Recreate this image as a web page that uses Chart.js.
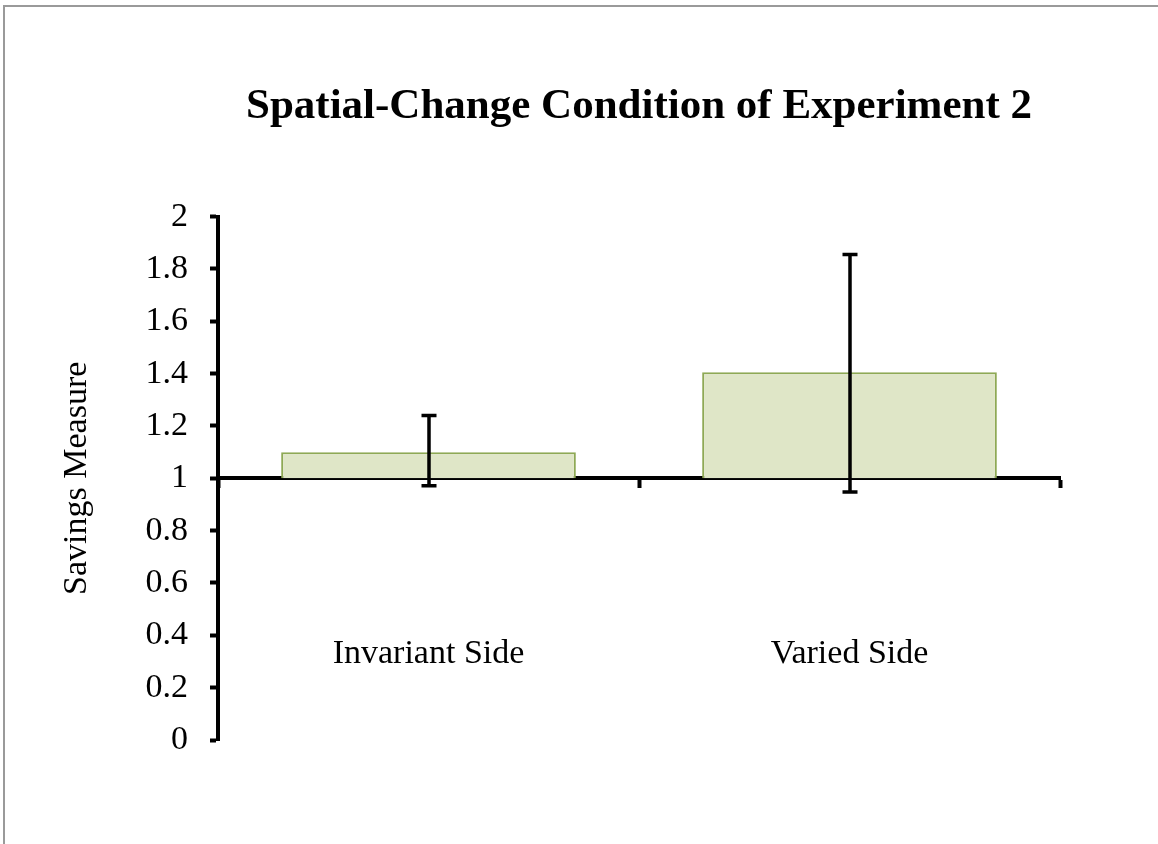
<!DOCTYPE html>
<html>
<head>
<meta charset="utf-8">
<script src="https://cdn.jsdelivr.net/npm/chart.js@4/dist/chart.umd.min.js"></script>
<style>
    html, body { margin: 0; padding: 0; background: #fff; }
    #wrap { position: relative; width: 1158px; height: 844px; overflow: hidden; }
    #frame {
        position: absolute; left: 3px; top: 5px; right: -10px; bottom: -10px;
        border-top: 2px solid #9a9a9a; border-left: 2px solid #9a9a9a;
    }
    #chart { position: absolute; left: 0; top: 0; }
</style>
</head>
<body>
<div id="wrap">
    <div id="frame"></div>
    <canvas id="chart" width="1158" height="844"></canvas>
</div>
<script>
// ============================================================
// DATA
// ============================================================
const categories = ['Invariant Side', 'Varied Side'];
const baseline = 1;                 // x axis crosses at 1
const means = [1.10, 1.405];
const errLow = [0.972, 0.948];
const errHigh = [1.24, 1.855];

// ============================================================
// ERROR BARS PLUGIN
// ============================================================
const errorBars = {
    id: 'errorBars',
    afterDraw(chart) {
        const ctx = chart.ctx;
        const yScale = chart.scales.y;
        const meta = chart.getDatasetMeta(0);
        ctx.save();
        ctx.strokeStyle = '#000';
        ctx.lineWidth = 3.5;
        meta.data.forEach((bar, i) => {
            const x = Math.round(bar.x);
            const yLo = yScale.getPixelForValue(errLow[i]);
            const yHi = yScale.getPixelForValue(errHigh[i]);
            const cap = 7.5;
            ctx.beginPath();
            ctx.moveTo(x, yLo);
            ctx.lineTo(x, yHi);
            ctx.moveTo(x - cap, yHi);
            ctx.lineTo(x + cap, yHi);
            ctx.moveTo(x - cap, yLo);
            ctx.lineTo(x + cap, yLo);
            ctx.stroke();
        });
        ctx.restore();
    }
};

// ============================================================
// CHART
// ============================================================
Chart.defaults.font.family = '"Liberation Serif", "Times New Roman", serif';
Chart.defaults.color = '#000';

const chart = new Chart(document.getElementById('chart'), {
    type: 'bar',
    data: {
        labels: categories,
        datasets: [{
            data: means.map(m => [baseline, m]),
            backgroundColor: '#dfe6c7',
            borderColor: '#8ea955',
            borderWidth: 2,
            borderSkipped: 'start',
            barPercentage: 0.7,
            categoryPercentage: 1
        }]
    },
    options: {
        responsive: false,
        animation: false,
        layout: { padding: { left: 0, right: 98, top: 0, bottom: 104 } },
        plugins: {
            legend: { display: false },
            tooltip: { enabled: false },
            title: {
                display: true,
                fullSize: false,
                text: 'Spatial-Change Condition of Experiment 2',
                color: '#000',
                font: { size: 43, weight: 'bold' },
                padding: { top: 81, bottom: 84 }
            }
        },
        scales: {
            x: {
                position: { y: baseline },
                z: 1,
                offset: true,
                grid: {
                    offset: true,
                    drawOnChartArea: false,
                    drawTicks: true,
                    tickLength: 8,
                    tickWidth: 4,
                    tickColor: '#000'
                },
                border: { display: true, color: '#000', width: 4 },
                ticks: { font: { size: 34 }, padding: 147, maxRotation: 0 },
                afterFit(scale) { scale.height = 0; }
            },
            y: {
                min: 0,
                max: 2,
                grid: {
                    drawOnChartArea: false,
                    drawTicks: true,
                    tickLength: 8,
                    tickWidth: 4,
                    tickColor: '#000'
                },
                border: { display: true, color: '#000', width: 4 },
                ticks: {
                    stepSize: 0.2,
                    padding: 22,
                    font: { size: 34 },
                    callback: (v) => String(+v.toFixed(1))
                },
                title: {
                    display: true,
                    text: 'Savings Measure',
                    font: { size: 34 },
                    padding: { top: 57, bottom: 0 }
                },
                afterFit(scale) { scale.width = 218; }
            }
        }
    },
    plugins: [errorBars]
});
</script>
</body>
</html>
